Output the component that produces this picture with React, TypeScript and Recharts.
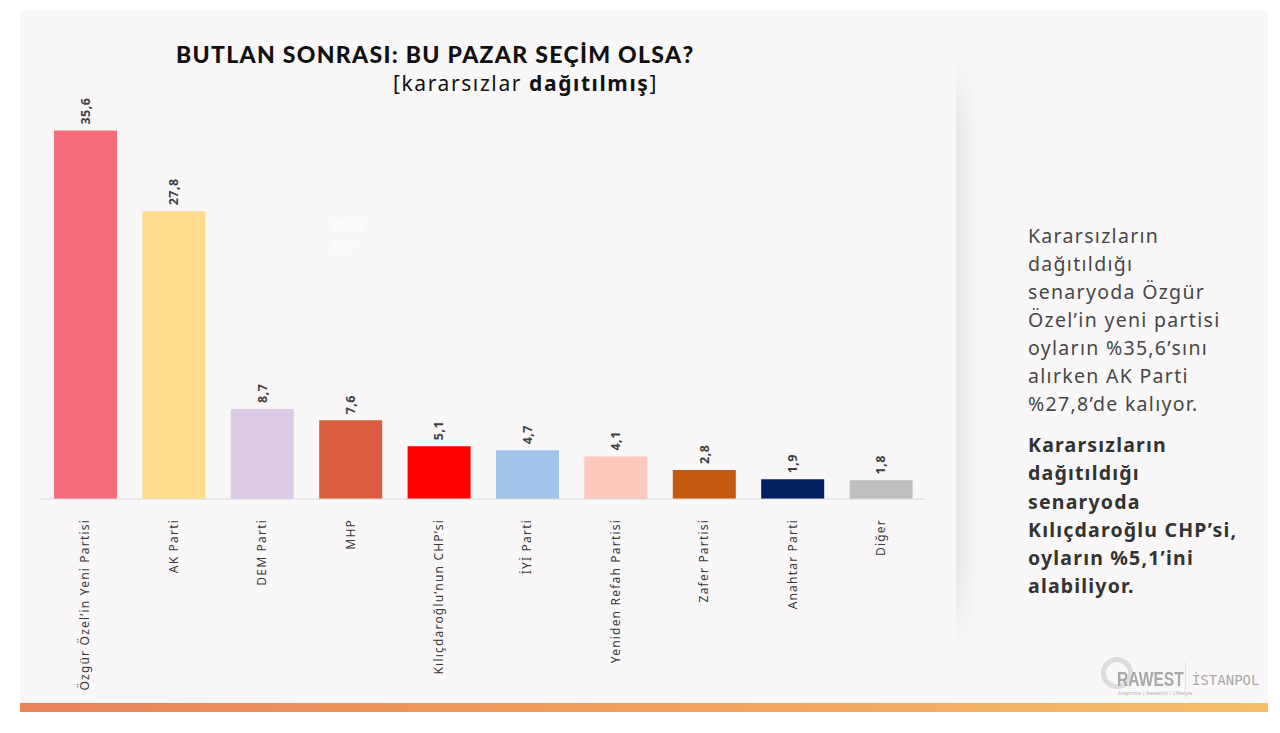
import { BarChart, Bar, XAxis, YAxis, Cell, LabelList } from 'recharts'

const parties = [
  'Özgür Özel’in Yeni Partisi',
  'AK Parti',
  'DEM Parti',
  'MHP',
  'Kılıçdaroğlu’nun CHP’si',
  'İYİ Parti',
  'Yeniden Refah Partisi',
  'Zafer Partisi',
  'Anahtar Parti',
  'Diğer',
]

const shares = [35.6, 27.8, 8.7, 7.6, 5.1, 4.7, 4.1, 2.8, 1.9, 1.8]

const colors = [
  '#f76d7d',
  '#ffdc8d',
  '#dccbe5',
  '#db5c3f',
  '#ff0000',
  '#a1c4e8',
  '#ffc9bd',
  '#c45a12',
  '#002060',
  '#bfbfbf',
]

const data = parties.map((name, i) => ({ name, value: shares[i] }))

const fmt = (v: number) => v.toFixed(1).replace('.', ',')

const PartyTick = (props: any) => {
  const { x, y, payload } = props
  return (
    <text
      x={x}
      y={y + 12}
      transform={`rotate(-90, ${x}, ${y + 12})`}
      textAnchor="end"
      dy="0.35em"
      fontSize={12}
      fontFamily="Noto Sans"
      letterSpacing={1.2}
      fill="#3a3a3a"
    >
      {payload.value}
    </text>
  )
}

const ValueLabel = (props: any) => {
  const { x, y, width, value } = props
  const cx = x + width / 2
  const cy = y - 6
  return (
    <text
      x={cx}
      y={cy}
      transform={`rotate(-90, ${cx}, ${cy})`}
      textAnchor="start"
      dy="0.35em"
      fontSize={12.5}
      fontWeight={700}
      fontFamily="Noto Sans"
      letterSpacing={0.5}
      fill="#404040"
    >
      {fmt(value)}
    </text>
  )
}

export default function App() {
  return (
    <div style={{ position: 'absolute', left: 0, top: 0, width: 1280, height: 733, background: '#ffffff', overflow: 'hidden' }}>
      <div style={{ position: 'absolute', left: 20, top: 10, width: 1248, height: 702, background: '#f9f7f8' }} />
      <div
        style={{
          position: 'absolute',
          left: 20,
          top: 703,
          width: 1248,
          height: 9,
          background: 'linear-gradient(to right, #e8845a, #f0a060 50%, #f5bf6b)',
        }}
      />
      <div
        style={{
          position: 'absolute',
          left: 956,
          top: 60,
          width: 22,
          height: 590,
          background: 'linear-gradient(to right, rgba(0,0,0,0.07), rgba(0,0,0,0))',
          WebkitMaskImage: 'linear-gradient(to bottom, transparent, black 12%, black 85%, transparent)',
          maskImage: 'linear-gradient(to bottom, transparent, black 12%, black 85%, transparent)',
        }}
      />

      <div
        style={{
          position: 'absolute',
          left: 176,
          top: 40,
          fontFamily: 'Lato',
          fontWeight: 900,
          fontSize: 23,
          letterSpacing: 1.3,
          color: '#111',
          whiteSpace: 'nowrap',
        }}
      >
        BUTLAN SONRASI: BU PAZAR SEÇİM OLSA?
      </div>
      <div
        style={{
          position: 'absolute',
          left: 393,
          top: 69,
          fontFamily: 'Noto Sans',
          fontSize: 21,
          letterSpacing: 1.6,
          color: '#111',
          whiteSpace: 'nowrap',
        }}
      >
        [kararsızlar <b>dağıtılmış</b>]
      </div>

      <div style={{ position: 'absolute', left: 0, top: 0 }}>
        <BarChart width={960} height={733} data={data} margin={{ top: 85, right: 35, left: 41, bottom: 0 }}>
          <XAxis
            dataKey="name"
            height={234}
            interval={0}
            tickLine={false}
            axisLine={{ stroke: '#d9d9d9' }}
            tick={<PartyTick />}
          />
          <YAxis hide domain={[0, 40]} />
          <Bar dataKey="value" barSize={63} isAnimationActive={false}>
            {data.map((d, i) => (
              <Cell key={d.name} fill={colors[i]} />
            ))}
            <LabelList dataKey="value" content={<ValueLabel />} />
          </Bar>
        </BarChart>
      </div>

      <div
        style={{
          position: 'absolute',
          left: 333,
          top: 218,
          fontFamily: 'Noto Sans',
          fontSize: 10,
          lineHeight: '18px',
          color: '#ffffff',
        }}
      >
        GENEL
        <br />
        CHP
      </div>

      <div
        style={{
          position: 'absolute',
          left: 1028,
          top: 222,
          fontFamily: 'Noto Sans',
          fontSize: 19.5,
          letterSpacing: 1.3,
          lineHeight: '28px',
          color: '#474747',
          whiteSpace: 'nowrap',
        }}
      >
        Kararsızların
        <br />
        dağıtıldığı
        <br />
        senaryoda Özgür
        <br />
        Özel’in yeni partisi
        <br />
        oyların %35,6’sını
        <br />
        alırken AK Parti
        <br />
        %27,8’de kalıyor.
      </div>
      <div
        style={{
          position: 'absolute',
          left: 1028,
          top: 431,
          fontFamily: 'Noto Sans',
          fontWeight: 700,
          fontSize: 19.5,
          letterSpacing: 1.2,
          lineHeight: '28.3px',
          color: '#333333',
          whiteSpace: 'nowrap',
        }}
      >
        Kararsızların
        <br />
        dağıtıldığı
        <br />
        senaryoda
        <br />
        Kılıçdaroğlu CHP’si,
        <br />
        oyların %5,1’ini
        <br />
        alabiliyor.
      </div>

      <div
        style={{
          position: 'absolute',
          left: 1101,
          top: 657,
          width: 22,
          height: 22,
          borderRadius: '50%',
          border: '5px solid #dddddd',
        }}
      />
      <div
        style={{
          position: 'absolute',
          left: 1117,
          top: 668,
          fontFamily: 'Liberation Sans Narrow, Liberation Sans',
          fontWeight: 700,
          fontSize: 20,
          color: '#a9a9a9',
          transform: 'scaleX(0.78)',
          transformOrigin: 'left',
          whiteSpace: 'nowrap',
        }}
      >
        RAWEST
      </div>
      <div
        style={{
          position: 'absolute',
          left: 1118,
          top: 690,
          fontFamily: 'Noto Sans',
          fontSize: 5,
          color: '#b5b5b5',
          whiteSpace: 'nowrap',
        }}
      >
        Araştırma | Research | Lifestyle
      </div>
      <div style={{ position: 'absolute', left: 1185, top: 662, width: 1, height: 36, background: '#e6e6e6' }} />
      <div
        style={{
          position: 'absolute',
          left: 1192,
          top: 672,
          fontFamily: 'DejaVu Sans Mono',
          fontSize: 14,
          color: '#a9a9a9',
          whiteSpace: 'nowrap',
        }}
      >
        İSTANPOL
      </div>
    </div>
  )
}
